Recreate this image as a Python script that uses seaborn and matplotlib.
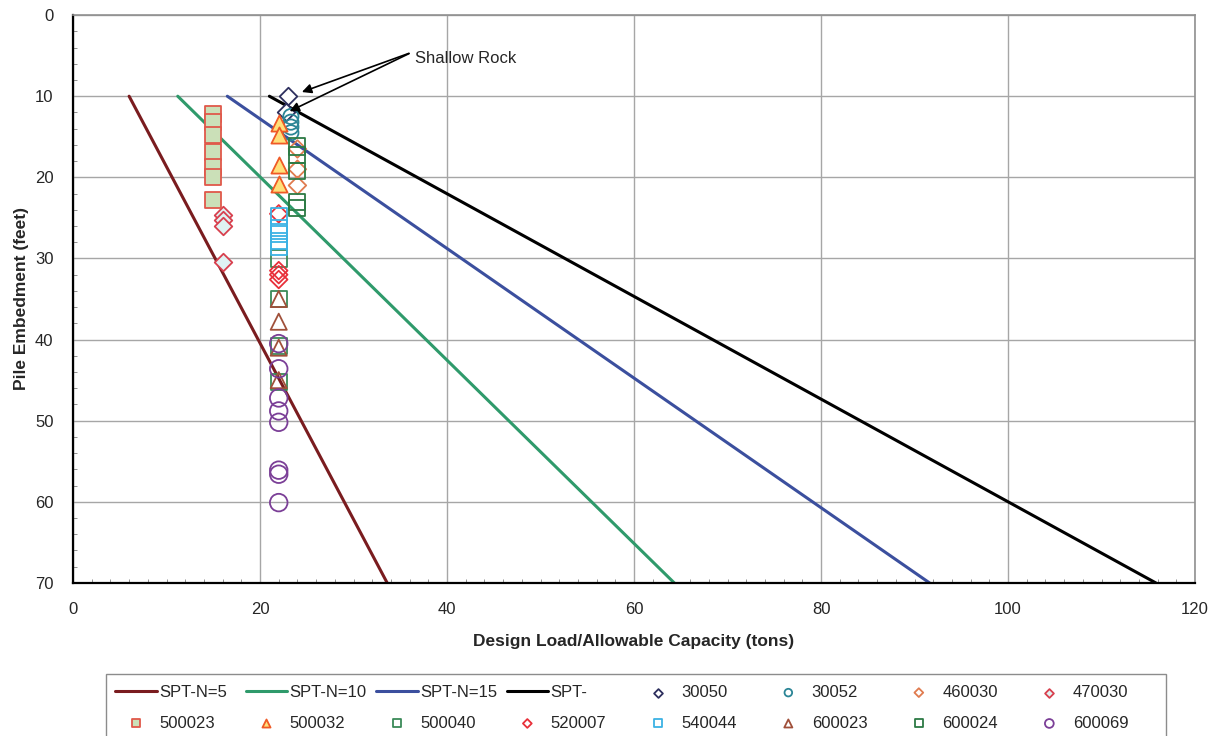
import matplotlib
matplotlib.use("Agg")
import matplotlib.pyplot as plt
from matplotlib.ticker import MultipleLocator
from matplotlib.patches import Rectangle
import seaborn as sns

# SPT design lines (depth vs. allowable capacity)
spt_depth = [10, 70]
spt5_load = [6.0, 33.6]
spt10_load = [11.2, 64.3]
spt15_load = [16.5, 91.6]
spt_load = [21.0, 115.8]

# test piles: load (tons) and embedment (feet)
p30050_load = [23.0, 22.8]
p30050_depth = [10.0, 12.0]
p30052_load = [23.3, 23.3, 23.3, 23.3]
p30052_depth = [12.5, 13.2, 13.8, 14.5]
p460030_load = [24, 24, 24]
p460030_depth = [16.5, 19.0, 21.0]
p470030_load = [16, 16, 16, 16]
p470030_depth = [24.7, 25.3, 26.0, 30.5]
p500023_load = [15, 15, 15, 15, 15, 15, 15]
p500023_depth = [12.2, 13.2, 14.8, 16.9, 18.7, 19.9, 22.8]
p500032_load = [22, 22, 22, 22]
p500032_depth = [13.3, 14.8, 18.5, 20.8]
p500040_load = [22, 22, 22, 22]
p500040_depth = [30.0, 35.0, 40.8, 45.2]
p520007_load = [22, 22, 22, 22]
p520007_depth = [24.5, 31.5, 32.0, 32.6]
p540044_load = [22, 22, 22, 22, 22]
p540044_depth = [24.8, 26.2, 27.0, 27.8, 28.6]
p600023_load = [22, 22, 22, 22]
p600023_depth = [35.0, 37.8, 41.0, 45.0]
p600024_load = [24, 24, 24, 24, 24]
p600024_depth = [16.2, 17.2, 19.2, 23.0, 23.8]
p600069_load = [22, 22, 22, 22, 22, 22, 22, 22]
p600069_depth = [40.5, 43.6, 47.2, 48.8, 50.2, 56.1, 56.6, 60.1]

sns.set_style("white")
plt.rcParams["font.family"] = ["Liberation Sans", "DejaVu Sans"]

fig = plt.figure(figsize=(12.27, 7.36), dpi=100)
ax = fig.add_axes([0.0595, 0.208, 0.9145, 0.7715])

# design lines
sns.lineplot(x=spt5_load, y=spt_depth, color="#7a1c1f", lw=2.2, label="SPT-N=5", ax=ax, sort=False)
sns.lineplot(x=spt10_load, y=spt_depth, color="#2f9a6b", lw=2.2, label="SPT-N=10", ax=ax, sort=False)
sns.lineplot(x=spt15_load, y=spt_depth, color="#3b4f9e", lw=2.2, label="SPT-N=15", ax=ax, sort=False)
sns.lineplot(x=spt_load, y=spt_depth, color="black", lw=2.2, label="SPT-", ax=ax, sort=False)

# pile records
series = [
    (p30050_load, p30050_depth, "30050", "D", "#2d2f5e", "white", 80),
    (p30052_load, p30052_depth, "30052", "o", "#2b8596", "none", 120),
    (p460030_load, p460030_depth, "460030", "D", "#e07b4f", "none", 80),
    (p470030_load, p470030_depth, "470030", "D", "#d8404e", "#dff3f3", 80),
    (p500023_load, p500023_depth, "500023", "s", "#e0584a", "#cbe0b8", 135),
    (p500032_load, p500032_depth, "500032", "^", "#ef5a26", "#ffe07a", 135),
    (p500040_load, p500040_depth, "500040", "s", "#3a8a58", "none", 135),
    (p520007_load, p520007_depth, "520007", "D", "#e8303a", "none", 80),
    (p540044_load, p540044_depth, "540044", "s", "#3cb2e4", "none", 135),
    (p600023_load, p600023_depth, "600023", "^", "#a0503a", "none", 135),
    (p600024_load, p600024_depth, "600024", "s", "#2c7a44", "none", 135),
    (p600069_load, p600069_depth, "600069", "o", "#7b3f97", "none", 160),
]
for load, depth, name, mk, ec, fc, size in series:
    sns.scatterplot(x=load, y=depth, marker=mk, s=size, edgecolor=ec, facecolor=fc,
                    linewidth=1.3, label=name, ax=ax, zorder=3)

ax.annotate("", xy=(24.2, 9.6), xytext=(36.2, 4.6),
            arrowprops=dict(arrowstyle="-|>", color="black", lw=1.2, mutation_scale=14))
ax.annotate("", xy=(22.9, 12.0), xytext=(36.2, 4.6),
            arrowprops=dict(arrowstyle="-|>", color="black", lw=1.2, mutation_scale=14))
ax.text(36.6, 5.3, "Shallow Rock", fontsize=12, va="center", ha="left")

ax.set_xlim(0, 120)
ax.set_ylim(70, 0)
ax.xaxis.set_major_locator(MultipleLocator(20))
ax.xaxis.set_minor_locator(MultipleLocator(2))
ax.yaxis.set_major_locator(MultipleLocator(10))
ax.yaxis.set_minor_locator(MultipleLocator(2))
ax.tick_params(which="major", direction="in", length=0, labelsize=12, pad=14)
ax.tick_params(which="minor", direction="in", length=3, color="#808080", bottom=True, left=True)
ax.grid(True, which="major", color="#a6a6a6", lw=1)
for side in ["left", "bottom"]:
    ax.spines[side].set_color("black")
    ax.spines[side].set_linewidth(1.6)
for side in ["top", "right"]:
    ax.spines[side].set_color("#909090")
    ax.spines[side].set_linewidth(1.2)

ax.set_xlabel("Design Load/Allowable Capacity (tons)", fontsize=12.5, fontweight="bold", labelpad=12)
ax.set_ylabel("Pile Embedment (feet)", fontsize=12.5, fontweight="bold", labelpad=4)

# legend: 2 rows x 8 evenly spaced columns inside one box
handles, labels = ax.get_legend_handles_labels()
ax.get_legend().remove()
fig.patches.append(Rectangle((106 / 1227, -0.02), 1060 / 1227, 0.02 + 62 / 736,
                             transform=fig.transFigure, facecolor="white",
                             edgecolor="#8c8c8c", lw=1.0, zorder=0))
for i in range(8):
    x0 = (115 + 130.5 * i) / 1227
    fig.legend([handles[i], handles[i + 8]], [labels[i], labels[i + 8]],
               loc="upper left", bbox_to_anchor=(x0, 1 - 685 / 736), ncol=1,
               fontsize=12, frameon=False, markerscale=0.5, handlelength=2.5,
               handletextpad=0.15, borderaxespad=0, borderpad=0, labelspacing=0.95)

fig.savefig("out.png", dpi=100)
